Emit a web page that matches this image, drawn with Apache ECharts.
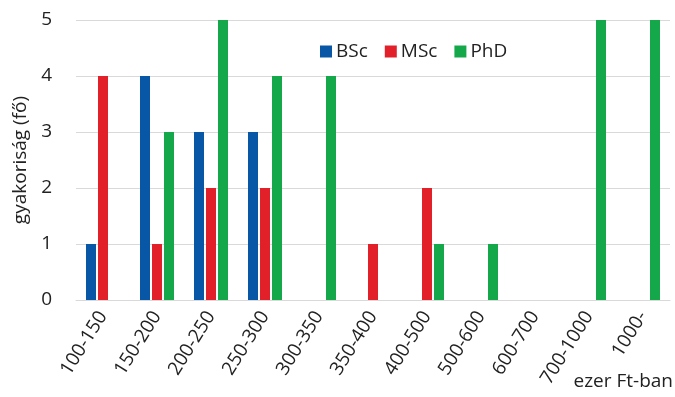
<!DOCTYPE html>
<html><head><meta charset="utf-8">
<script src="https://cdn.jsdelivr.net/npm/echarts@6/dist/echarts.min.js"></script>
<style>html,body{margin:0;padding:0;background:#fff}#c{width:675px;height:397px}</style>
</head><body><div id="c"></div>
<script>
const categories = ['100-150','150-200','200-250','250-300','300-350','350-400','400-500','500-600','600-700','700-1000','1000-'];
const bsc = [1,4,3,3,0,0,0,0,0,0,0];
const msc = [4,1,2,2,0,1,2,0,0,0,0];
const phd = [0,3,5,4,4,0,1,1,0,5,5];
const yTicks = [0,1,2,3,4,5];
const font = '"Open Sans", "Noto Sans", sans-serif';
const chart = echarts.init(document.getElementById('c'));
const mk = (name, data, color) => ({name, type:'bar', data, barWidth:10, barGap:'20%', itemStyle:{color}});
chart.setOption({
  animation:false,
  textStyle:{fontFamily:font},
  grid:{left:76,right:5,top:20,bottom:97},
  legend:{top:37,left:315,itemWidth:12,itemHeight:12,itemGap:17,icon:'rect',
    textStyle:{fontSize:19,color:'#222',fontFamily:font,padding:[0,0,0,-1]},
    data:['BSc','MSc','PhD']},
  xAxis:{type:'category',data:categories,
    axisLine:{show:true,lineStyle:{color:'#d9d9d9'}},axisTick:{show:false},
    axisLabel:{rotate:58,fontSize:19,color:'#222',margin:13,interval:0,fontFamily:font}},
  yAxis:{type:'value',min:yTicks[0],max:yTicks[yTicks.length-1],interval:1,
    name:'gyakoriság (fő)',nameLocation:'middle',nameGap:46,nameRotate:90,
    nameTextStyle:{fontSize:19,color:'#222',fontFamily:font},
    axisLabel:{fontSize:19,color:'#222',margin:24,fontFamily:font},
    axisLine:{show:false},axisTick:{show:false},
    splitLine:{lineStyle:{color:'#d9d9d9'}}},
  graphic:[{type:'text',right:2,top:372,style:{text:'ezer Ft-ban',fontSize:19,fill:'#222',fontFamily:font}}],
  series:[mk('BSc',bsc,'#0857a6'),mk('MSc',msc,'#e2202a'),mk('PhD',phd,'#14a84a')]
});
</script></body></html>
